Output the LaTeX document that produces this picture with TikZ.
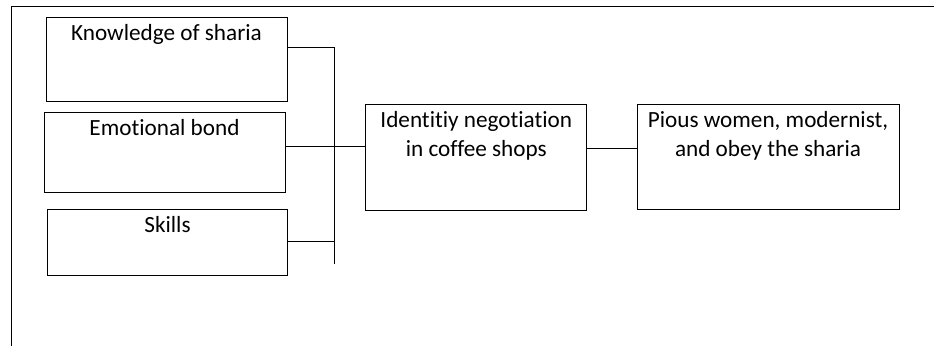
\documentclass[tikz,border=0pt]{standalone}
\usepackage{fontspec}
\setmainfont[Ligatures=NoCommon]{Carlito}
\usetikzlibrary{positioning,calc}

\tikzset{
  box/.style={draw,rectangle,inner sep=0pt},
  txt/.style={align=center,inner sep=0pt,anchor=base,font=\fontsize{23.2}{29}\selectfont}
}

\begin{document}
\begin{tikzpicture}[x=1pt,y=-1pt,line width=0.9pt]
    \useasboundingbox (0,0) rectangle (934,346);
    % frame, top and left only
    \draw (934,6) -- (11,6) -- (11,346);

    \coordinate (jk) at (334,47.5);
    \coordinate (je) at (334,146);
    \coordinate (js) at (334,241);
    \coordinate (jb) at (334,264);
    \coordinate (jp) at (612,148);

    \node[box,minimum width=241,minimum height=84] (know) at (166.5,59) {};
    \node[box,minimum width=241,minimum height=80] (emo) at (164.5,152) {};
    \node[box,minimum width=240,minimum height=66] (skill) at (167.5,242) {};
    \node[box,minimum width=221,minimum height=106] (ident) at (476.3,157) {};
    \node[box,minimum width=262,minimum height=105] (pious) at (768,156.5) {};

    \node[txt] (knowtxt) at ($(know.north)+(0,24)$) {Knowledge of sharia};
    \node[txt] (emotxt) at ($(emo.north)+(0,24)$) {Emotional bond};
    \node[txt] (skilltxt) at ($(skill.north)+(0,24)$) {Skills};
    % base of a two-line node is its last line
    \node[txt] (identtxt) at ($(ident.north)+(0,53)$) {Identitiy negotiation\\in coffee shops};
    \node[txt] (pioustxt) at ($(pious.north)+(0,53)$) {Pious women, modernist,\\and obey the sharia};

    \draw (know.east |- jk) -- (jk) -- (jb);
    \draw (emo.east |- je) -- (ident.west |- je);
    \draw (skill.east |- js) -- (js);
    \draw (ident.east |- jp) -- (pious.west |- jp);
\end{tikzpicture}
\end{document}
